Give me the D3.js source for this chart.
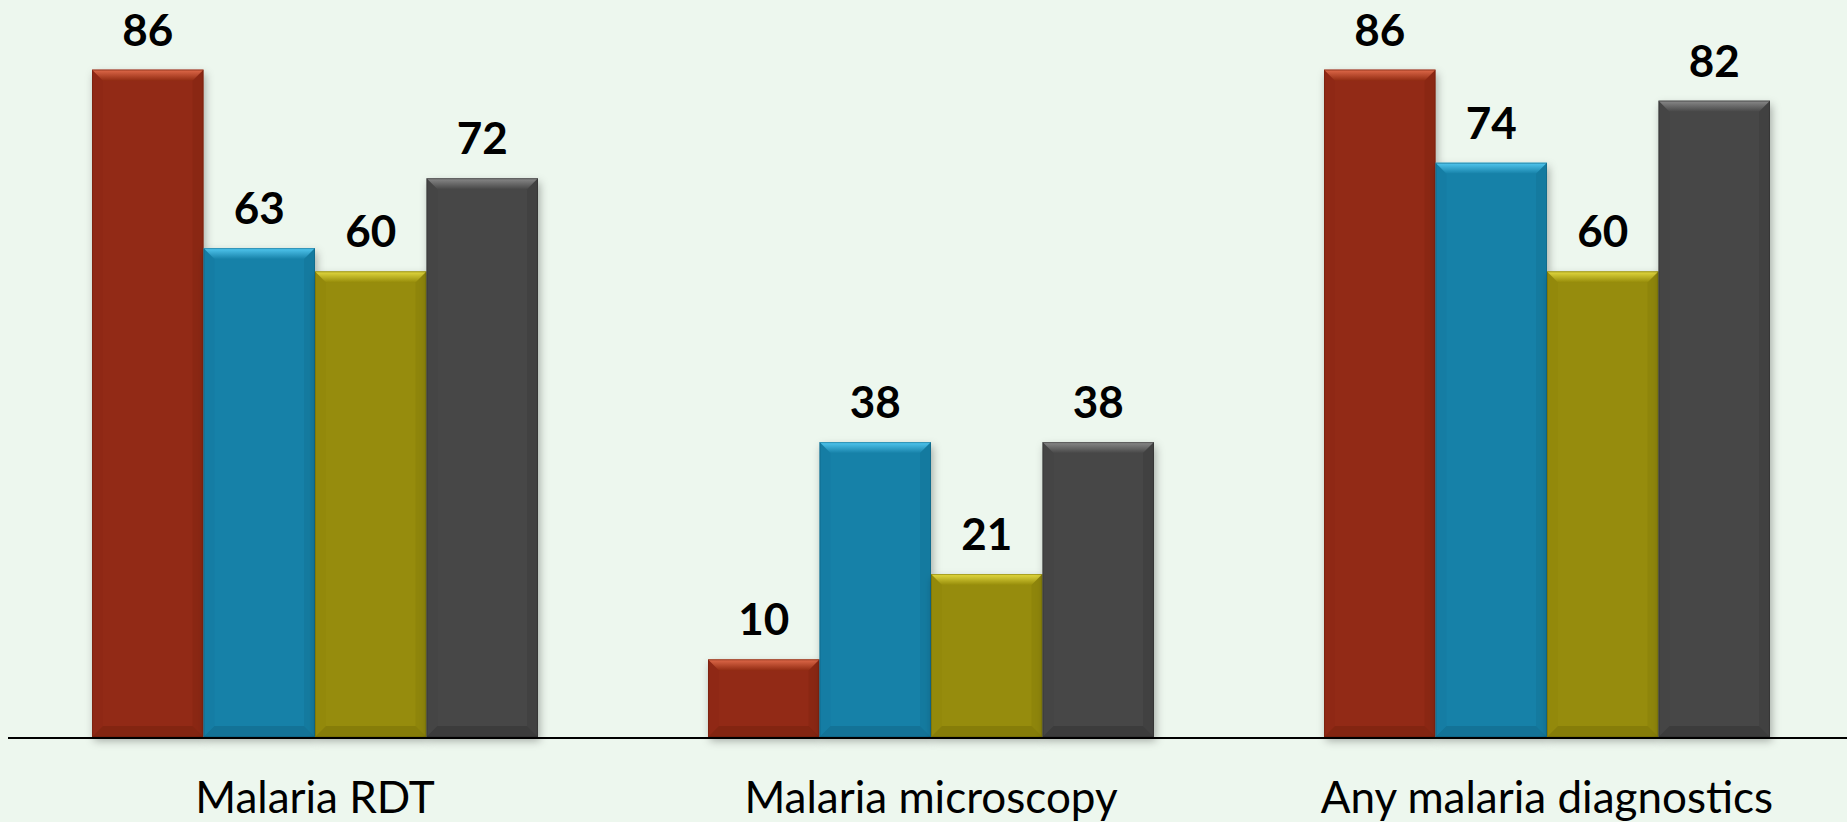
<!DOCTYPE html>
<html>
<head>
<meta charset="utf-8">
<script src="https://cdn.jsdelivr.net/npm/d3@7"></script>
<style>
  html, body { margin: 0; padding: 0; background: #edf7ee; overflow: hidden; }
  svg { display: block; }
</style>
</head>
<body>
<script>
const categories = ["Malaria RDT", "Malaria microscopy", "Any malaria diagnostics"];
const seriesNames = ["s1", "s2", "s3", "s4"];
const s1 = [86, 10, 86];
const s2 = [63, 38, 74];
const s3 = [60, 21, 60];
const s4 = [72, 38, 82];
const seriesValues = [s1, s2, s3, s4];

const colours = ["#922c13", "#1681a8", "#968c0a", "#474747"];
const lights  = ["#e06a4a", "#52c8f0", "#e4da40", "#8a8a8a"];
const darks   = ["#6e1e0b", "#0e5e7c", "#6e6706", "#2e2e2e"];

const width = 1847, height = 822;
const baseY = 737;

const svg = d3.select("body").append("svg")
    .attr("width", width)
    .attr("height", height);

svg.append("rect").attr("width", width).attr("height", height).attr("fill", "#edf7ee");

let defs = svg.append("defs");
let shadow = defs.append("filter").attr("id", "shadow")
    .attr("x", "-20%").attr("y", "-20%").attr("width", "140%").attr("height", "140%");
shadow.append("feDropShadow")
    .attr("dx", 2).attr("dy", 4).attr("stdDeviation", 4)
    .attr("flood-color", "#000").attr("flood-opacity", 0.3);

colours.forEach((c, i) => {
    let g = defs.append("linearGradient").attr("id", "top" + i)
        .attr("x1", 0).attr("y1", 0).attr("x2", 0).attr("y2", 1);
    g.append("stop").attr("offset", "0%").attr("stop-color", lights[i]);
    g.append("stop").attr("offset", "100%").attr("stop-color", c);
});

let x0 = d3.scaleBand().domain(categories).range([7, 1855])
    .paddingInner(0.276).paddingOuter(0.138);
let x1 = d3.scaleBand().domain(seriesNames).range([0, x0.bandwidth()]);
let y = d3.scaleLinear().domain([0, 100]).range([baseY, baseY - 776]);

let data = [];
categories.forEach((cat, ci) => {
    seriesNames.forEach((s, si) => {
        data.push({ cat: cat, series: s, si: si, value: seriesValues[si][ci] });
    });
});

// axis line
svg.append("line")
    .attr("x1", 8).attr("x2", width)
    .attr("y1", baseY + 1).attr("y2", baseY + 1)
    .attr("stroke", "#000").attr("stroke-width", 2);

let bars = svg.append("g").selectAll("g.bar")
    .data(data)
    .join("g")
    .attr("class", "bar");

bars.each(function(d) {
    let g = d3.select(this);
    let x = x0(d.cat) + x1(d.series);
    let w = x1.bandwidth();
    let top = y(d.value);
    let h = baseY - top;
    let b = Math.min(11, h / 2);

    g.append("rect")
        .attr("x", x).attr("y", top).attr("width", w).attr("height", h)
        .attr("fill", colours[d.si])
        .attr("filter", "url(#shadow)");

    // bevel: top
    g.append("polygon")
        .attr("points", [[x, top], [x + w, top], [x + w - b, top + b], [x + b, top + b]].join(" "))
        .attr("fill", "url(#top" + d.si + ")");
    // left / right / bottom bevels
    g.append("polygon")
        .attr("points", [[x, top], [x + b, top + b], [x + b, baseY - b], [x, baseY]].join(" "))
        .attr("fill", darks[d.si]).attr("opacity", 0.08);
    g.append("polygon")
        .attr("points", [[x + w, top], [x + w - b, top + b], [x + w - b, baseY - b], [x + w, baseY]].join(" "))
        .attr("fill", darks[d.si]).attr("opacity", 0.2);
    g.append("polygon")
        .attr("points", [[x, baseY], [x + b, baseY - b], [x + w - b, baseY - b], [x + w, baseY]].join(" "))
        .attr("fill", darks[d.si]).attr("opacity", 0.4);

    g.append("rect")
        .attr("x", x + 0.5).attr("y", top + 0.5).attr("width", w - 1).attr("height", h - 1)
        .attr("fill", "none")
        .attr("stroke", darks[d.si]).attr("stroke-opacity", 0.5).attr("stroke-width", 1);

    g.append("text")
        .attr("x", x + w / 2)
        .attr("y", top - 24)
        .attr("text-anchor", "middle")
        .attr("font-family", "Lato, 'Open Sans', sans-serif")
        .attr("font-weight", "bold")
        .attr("font-size", 44)
        .attr("fill", "#000")
        .text(d.value);
});

svg.append("g").selectAll("text.cat")
    .data(categories)
    .join("text")
    .attr("class", "cat")
    .attr("x", d => x0(d) + x0.bandwidth() / 2)
    .attr("y", 813)
    .attr("text-anchor", "middle")
    .attr("font-family", "Lato, 'Open Sans', sans-serif")
    .attr("font-size", 44)
    .attr("fill", "#000")
    .text(d => d);
</script>
</body>
</html>
